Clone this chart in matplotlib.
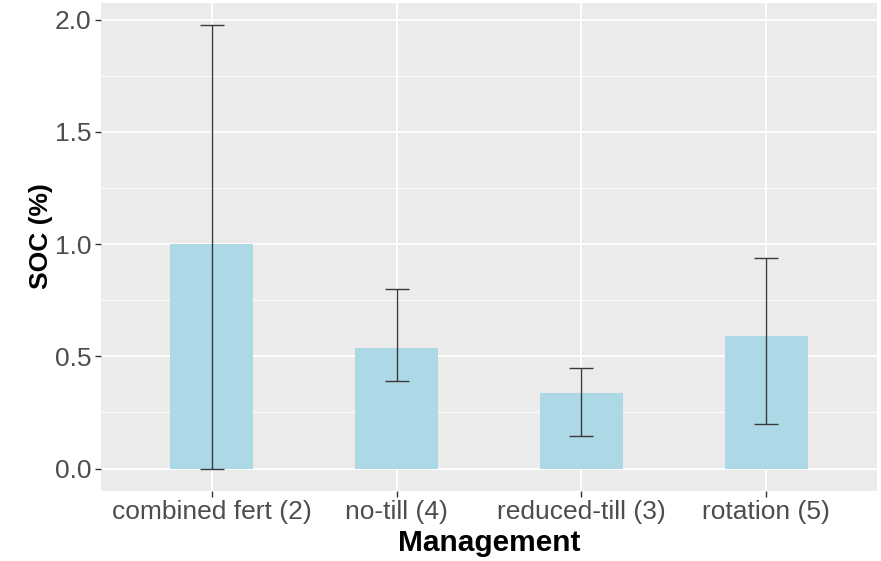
import numpy as np
import matplotlib
matplotlib.use('Agg')
import matplotlib.pyplot as plt
from matplotlib.ticker import MultipleLocator

plt.rcParams['font.family'] = ['Liberation Sans', 'DejaVu Sans']

# Данные
categories = ['combined fert (2)', 'no-till (4)', 'reduced-till (3)', 'rotation (5)']
soc_mean = [1.00, 0.535, 0.335, 0.59]
soc_low = [0.0, 0.39, 0.147, 0.20]
soc_high = [1.975, 0.80, 0.45, 0.94]

fig = plt.figure(figsize=(8.81, 5.61), dpi=100)
ax = fig.add_axes([0.1146, 0.1253, 0.8809, 0.8694])
ax.set_facecolor('#EBEBEB')

x = np.arange(len(categories))
mean = np.array(soc_mean)
yerr = [mean - np.array(soc_low), np.array(soc_high) - mean]

ax.bar(x, mean, width=0.45, color='#ADD8E6', zorder=2)
ax.errorbar(x, mean, yerr=yerr, fmt='none', ecolor='#3A3A3A',
            elinewidth=1.0, capsize=8.3, capthick=1.0, zorder=3)

# Оси и сетка в стиле ggplot
ax.set_xlim(-0.6, len(categories) - 0.4)
ax.set_ylim(-0.0987, 2.0737)
ax.yaxis.set_major_locator(MultipleLocator(0.5))
ax.yaxis.set_minor_locator(MultipleLocator(0.25))
ax.set_xticks(x)
ax.set_xticklabels(categories)
ax.grid(True, which='major', color='white', linewidth=1.3, zorder=0)
ax.grid(True, which='minor', axis='y', color='white', linewidth=0.6, zorder=0)
ax.set_axisbelow(True)
for s in ax.spines.values():
    s.set_visible(False)

ax.tick_params(axis='both', which='major', length=4, width=1, color='#333333',
               labelsize=19, labelcolor='#4D4D4D', pad=3)
ax.tick_params(axis='y', which='minor', length=0)
ax.yaxis.set_major_formatter(plt.FuncFormatter(lambda v, p: f'{v:.1f}'))

ax.set_xlabel('Management', fontsize=21.5, fontweight='bold', color='black', labelpad=3)
ax.set_ylabel('SOC (%)', fontsize=19, fontweight='bold', color='black')
ax.yaxis.set_label_coords(-0.062, 0.522)

plt.savefig('out.png', dpi=100)
